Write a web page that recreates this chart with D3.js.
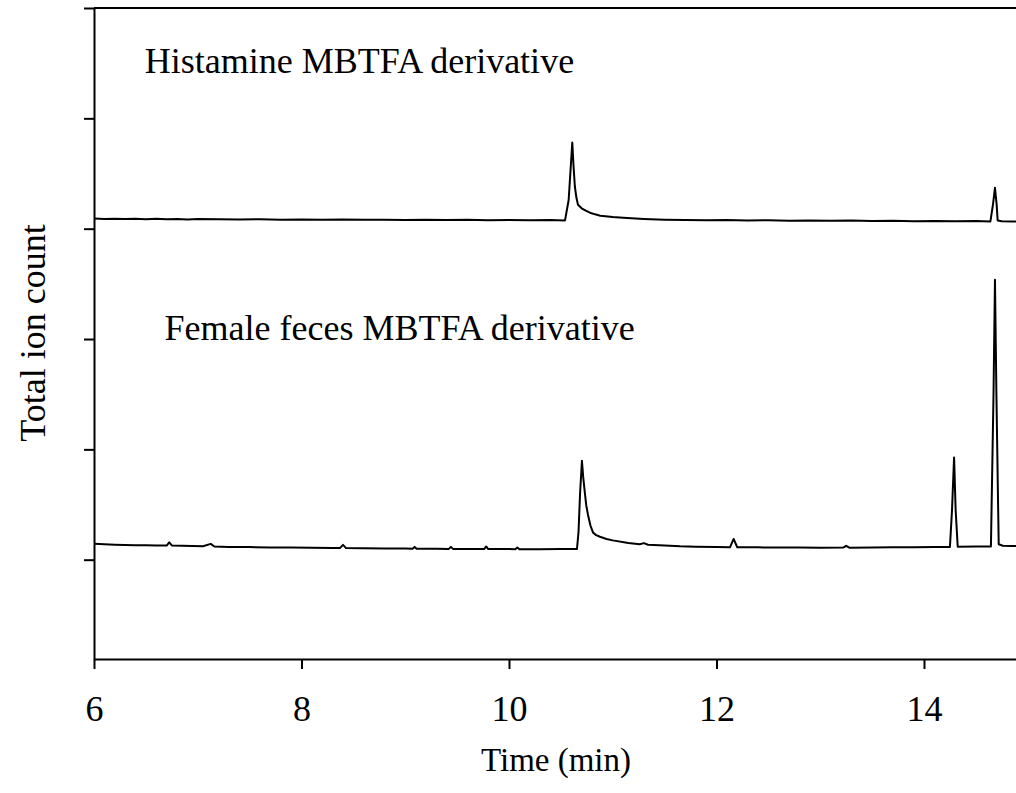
<!DOCTYPE html>
<html>
<head>
<meta charset="utf-8">
<script src="https://cdn.jsdelivr.net/npm/d3@7"></script>
<style>
  body { margin: 0; background: #fff; }
  svg { font-family: "Liberation Serif", "Times New Roman", serif; }
  .axis path, .axis line { stroke: #000; stroke-width: 2; }
  .axis text { font-family: "Liberation Serif", "Times New Roman", serif; font-size: 36px; fill: #000; }
</style>
</head>
<body>
<div id="chart"></div>
<script>
// x ticks (min)
var xTicks = [6, 8, 10, 12, 14];
var yTicks = [0, 100, 200, 300, 400, 500];

// histamine standard trace
var histTime = [6.00, 6.10, 6.20, 6.30, 6.40, 6.50, 6.60, 6.70, 6.80, 6.90, 7.00, 7.20, 7.40, 7.60, 7.80,
    8.00, 8.20, 8.40, 8.60, 8.80, 9.00, 9.20, 9.40, 9.60, 9.80, 10.00, 10.20, 10.40, 10.54,
    10.575, 10.61, 10.62, 10.635, 10.65, 10.665, 10.70, 10.74, 10.78, 10.83, 10.88, 11.00, 11.10,
    11.30, 11.50, 11.70, 11.90,
    12.10, 12.30, 12.50, 12.70, 12.90, 13.10, 13.30, 13.50, 13.70, 13.90, 14.10, 14.30, 14.50,
    14.64, 14.665, 14.684, 14.70, 14.71, 14.75, 14.85, 14.95];
var histValue = [309.2, 308.8, 309.1, 308.7, 309.0, 308.6, 308.9, 308.5, 308.8, 308.4, 308.7, 308.5, 308.3, 308.6, 308.2,
    308.4, 308.1, 308.3, 308.0, 308.2, 307.9, 308.1, 307.8, 308.0, 307.7, 307.9, 307.6, 307.8, 307.5,
    326.0, 378.0, 360.0, 338.0, 328.0, 321.7, 318.5, 316.3, 314.5, 313.0, 311.8, 310.5, 309.8,
    308.8, 308.2, 307.9, 307.6,
    307.8, 307.4, 307.6, 307.2, 307.4, 307.1, 307.3, 306.9, 307.1, 306.8, 307.0, 306.7, 306.9,
    306.6, 322.0, 337.0, 322.0, 307.5, 306.8, 306.5, 306.6];

// female feces trace
var femTime = [6.00, 6.10, 6.20, 6.30, 6.40, 6.50, 6.60, 6.70, 6.725, 6.75, 6.85, 6.95, 7.05, 7.125, 7.16,
    7.30, 7.50, 7.70, 7.90, 8.10, 8.30, 8.37, 8.40, 8.43, 8.60, 8.80, 9.00, 9.07, 9.09, 9.11,
    9.30, 9.42, 9.44, 9.46, 9.60, 9.76, 9.78, 9.80, 10.00, 10.06, 10.08, 10.10, 10.30, 10.50,
    10.655, 10.67, 10.685, 10.703, 10.715, 10.733, 10.745, 10.761, 10.785, 10.81, 10.84, 10.877,
    10.94, 11.00, 11.15, 11.26, 11.30, 11.34,
    11.50, 11.65, 11.80, 12.00, 12.13, 12.165, 12.20, 12.40, 12.60, 12.80, 13.00, 13.22, 13.25,
    13.28, 13.50, 13.70, 13.90, 14.10, 14.25, 14.27, 14.29, 14.305, 14.325, 14.50, 14.645,
    14.67, 14.684, 14.698, 14.72, 14.76, 14.85, 14.95];
var femValue = [14.4, 14.0, 13.6, 13.4, 13.1, 13.0, 12.9, 12.8, 15.8, 12.9, 12.6, 12.4, 12.2, 14.3, 12.0,
    11.6, 11.4, 11.1, 11.0, 10.8, 10.6, 10.5, 13.4, 10.5, 10.3, 10.2, 10.1, 10.0, 11.6, 10.0,
    9.9, 9.8, 11.6, 9.8, 9.7, 9.6, 12.0, 9.6, 9.6, 9.5, 11.0, 9.5, 9.5, 9.6,
    9.6, 25.0, 60.0, 89.7, 75.0, 58.9, 49.0, 40.8, 31.0, 24.5, 22.3, 20.8,
    18.8, 17.5, 15.2, 14.0, 15.0, 13.6,
    12.8, 12.1, 11.8, 11.4, 11.2, 18.8, 11.3, 11.2, 11.0, 11.1, 10.9, 11.0, 12.6,
    10.9, 11.0, 11.2, 11.3, 11.5, 11.6, 45.0, 92.7, 45.0, 11.8, 11.9, 12.0,
    150.0, 253.8, 150.0, 14.0, 12.6, 12.3, 12.3];

var labels = [
    {text: "Histamine MBTFA derivative", t: 6.49, v: 441},
    {text: "Female feces MBTFA derivative", t: 6.68, v: 199}
];

var width = 1016, height = 793;
var svg = d3.select("#chart").append("svg")
    .attr("width", width)
    .attr("height", height);

var x = d3.scaleLinear().domain([6, 15]).range([94, 1027.75]);
var y = d3.scaleLinear().domain([-90, 500]).range([659, 8]);

// top frame line
svg.append("line")
    .attr("x1", x(6)).attr("x2", width)
    .attr("y1", y(500)).attr("y2", y(500))
    .attr("stroke", "#000").attr("stroke-width", 2);

// x axis
svg.append("g")
    .attr("class", "axis")
    .attr("transform", "translate(0," + y(-90) + ")")
    .call(d3.axisBottom(x).tickValues(xTicks).tickSize(10).tickSizeOuter(0).tickPadding(26));

// y axis, no labels
svg.append("g")
    .attr("class", "axis")
    .attr("transform", "translate(" + x(6) + ",0)")
    .call(d3.axisLeft(y).tickValues(yTicks).tickSize(10).tickSizeOuter(0).tickFormat(""));

var line = d3.line()
    .x(function(d){ return x(d[0]); })
    .y(function(d){ return y(d[1]); });

svg.append("path")
    .datum(d3.zip(histTime, histValue))
    .attr("d", line)
    .attr("fill", "none")
    .attr("stroke", "#000")
    .attr("stroke-width", 2)
    .attr("stroke-linejoin", "round");

svg.append("path")
    .datum(d3.zip(femTime, femValue))
    .attr("d", line)
    .attr("fill", "none")
    .attr("stroke", "#000")
    .attr("stroke-width", 2)
    .attr("stroke-linejoin", "round");

svg.selectAll(".lbl")
    .data(labels)
    .enter().append("text")
    .attr("class", "lbl")
    .attr("x", function(d){ return x(d.t); })
    .attr("y", function(d){ return y(d.v); })
    .attr("font-size", 36)
    .text(function(d){ return d.text; });

// axis titles
svg.append("text")
    .attr("x", 556).attr("y", 771)
    .attr("text-anchor", "middle")
    .attr("font-size", 33)
    .text("Time (min)");

svg.append("text")
    .attr("transform", "translate(45,333) rotate(-90)")
    .attr("text-anchor", "middle")
    .attr("font-size", 36)
    .text("Total ion count");
</script>
</body>
</html>
